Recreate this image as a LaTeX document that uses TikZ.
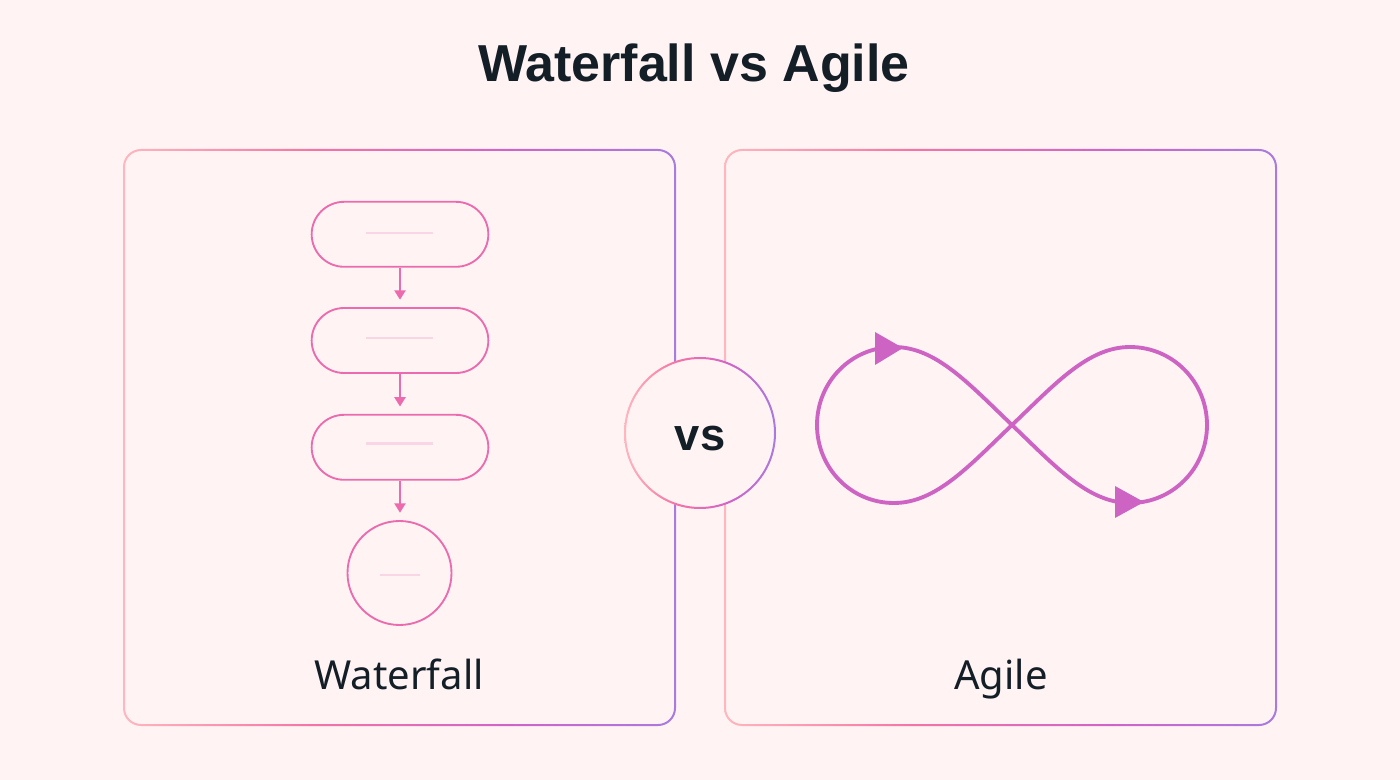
\documentclass[tikz,border=0pt]{standalone}
\usepackage{fontspec}
\setmainfont{Noto Sans}
\newfontfamily\headfont[BoldFont={Liberation Sans Bold}]{Liberation Sans}
\usetikzlibrary{shapes.misc,arrows.meta}
\definecolor{bgc}{HTML}{FFF4F3}
\definecolor{ink}{HTML}{141E27}
\definecolor{pinkc}{HTML}{EC6AAE}
\definecolor{palec}{HTML}{FAD5E6}
\definecolor{loopc}{HTML}{CD64C4}
\definecolor{gA}{HTML}{FFB6BE}
\definecolor{gB}{HTML}{F574A6}
\definecolor{gC}{HTML}{CF64C8}
\definecolor{gD}{HTML}{A77BE0}
\pgfdeclarehorizontalshading{ringgrad}{100bp}{
 color(0bp)=(gA); color(25bp)=(gA); color(42bp)=(gB); color(60bp)=(gC); color(75bp)=(gD); color(100bp)=(gD)}
\tikzset{
 pill/.style={draw=pinkc,line width=1.4pt,rounded rectangle,minimum width=132.5pt,minimum height=48.75pt,inner sep=0pt},
 endcircle/.style={draw=pinkc,line width=1.4pt,circle,minimum size=78pt,inner sep=0pt},
 flow/.style={draw=pinkc,line width=1.4pt,-{Triangle[length=7pt,width=8.3pt]},shorten >=5.5pt},
 placeholder/.style={draw=palec,line width=1.8pt},
 loopline/.style={draw=loopc,line width=2.9pt},
 loophead/.style={fill=loopc},
 caption/.style={text=ink,font=\fontsize{30}{36}\selectfont,anchor=base},
}
\begin{document}
\begin{tikzpicture}[x=0.75pt,y=-0.75pt]
\useasboundingbox (0,0) rectangle (1400,780);
\fill[bgc] (0,0) rectangle (1400,780);
\node[text=ink,font=\headfont\fontsize{39}{46}\bfseries\selectfont,anchor=base] (title) at (694,81.5) {Waterfall vs Agile};
% panels
\shade[shading=ringgrad,even odd rule]
  (123,149) [rounded corners=13.5pt] rectangle (676,726)
  (125,151) [rounded corners=12pt] rectangle (674,724);
\shade[shading=ringgrad,even odd rule]
  (724,149) [rounded corners=13.5pt] rectangle (1277,726)
  (726,151) [rounded corners=12pt] rectangle (1275,724);
% waterfall
\node[pill] (p1) at (400,234.3) {};
\node[pill] (p2) at (400,340.5) {};
\node[pill] (p3) at (400,447.3) {};
\node[endcircle] (e) at (399.5,573) {};
\draw[flow] (p1) -- (p2);
\draw[flow] (p2) -- (p3);
\draw[flow] (p3.south) -- (p3.south |- e.north);
\draw[placeholder] (366,232.8) -- (433,232.8);
\draw[placeholder] (366,338.3) -- (433,338.3);
\draw[placeholder] (366,443.5) -- (433,443.5);
\draw[placeholder] (380,574.7) -- (420,574.7);
\node[caption] (wf) at (399,689.5) {Waterfall};
\node[caption] (ag) at (1001,689.5) {Agile};
% infinity
\draw[loopline] (1012,425)
 .. controls (1055,384) and (1088,347) .. (1130,347)
 .. controls (1173,347) and (1207,382) .. (1207,425)
 .. controls (1207,468) and (1173,503) .. (1130,503)
 .. controls (1088,503) and (1055,466) .. (1012,425)
 .. controls (969,384) and (936,347) .. (894,347)
 .. controls (851,347) and (817,382) .. (817,425)
 .. controls (817,468) and (851,503) .. (894,503)
 .. controls (936,503) and (969,466) .. (1012,425) -- cycle;
\fill[loophead] (875,332) -- (903,348) -- (875,365) -- cycle;
\fill[loophead] (1115,486) -- (1144,502) -- (1115,518) -- cycle;
% vs
\fill[bgc] (700,433) circle[radius=56.25pt];
\shade[shading=ringgrad,even odd rule] (700,433) circle[radius=57pt] (700,433) circle[radius=55.5pt];
\node[text=ink,font=\headfont\fontsize{34}{40}\bfseries\selectfont,anchor=base] (vs) at (700,451) {vs};
\end{tikzpicture}
\end{document}
